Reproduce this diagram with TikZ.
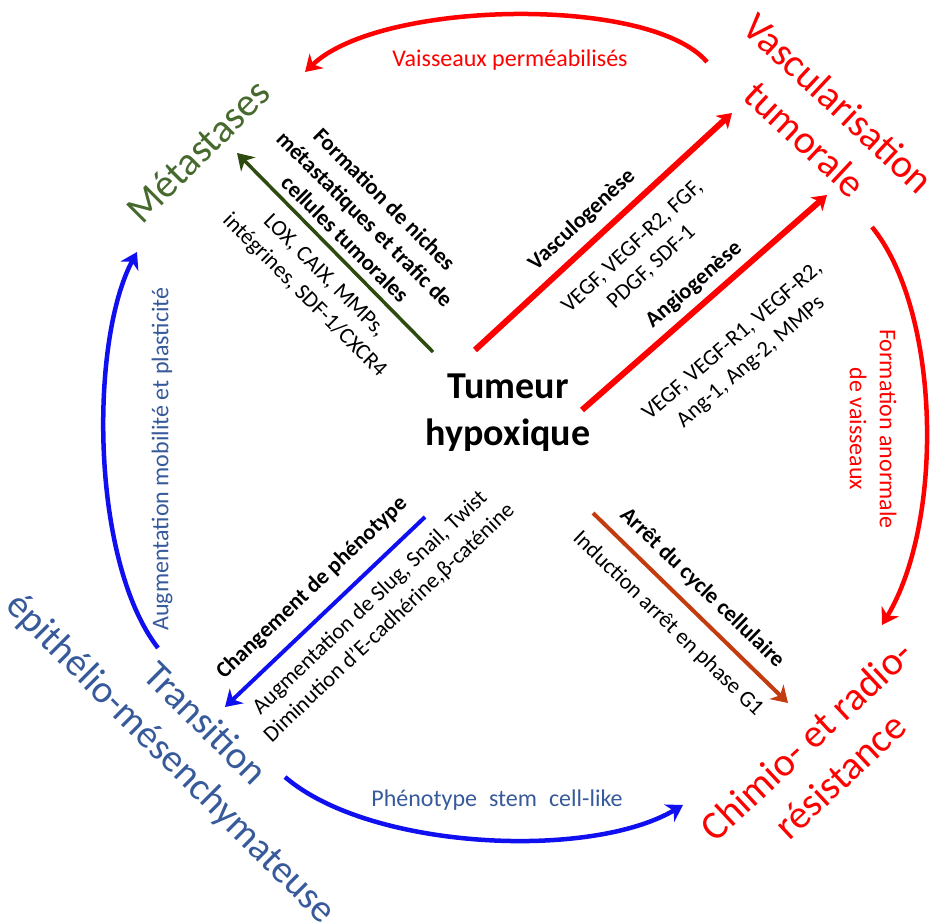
\documentclass[tikz,border=0pt]{standalone}
\usepackage{fontspec}
\setmainfont{Carlito}
\usetikzlibrary{arrows.meta}
\definecolor{myred}{RGB}{255,0,0}
\definecolor{metgreen}{RGB}{70,105,45}
\definecolor{arrgreen}{RGB}{45,75,15}
\definecolor{temblue}{RGB}{55,90,155}
\definecolor{arrblue}{RGB}{15,15,240}
\definecolor{arrorange}{RGB}{195,60,15}
\begin{document}
\begin{tikzpicture}[x=1pt,y=-1pt,
  small/.style={font=\fontsize{22.5}{28}\selectfont, align=center, inner sep=0pt},
  smallb/.style={font=\fontsize{22.5}{28}\selectfont\bfseries, align=center, inner sep=0pt},
  arclbl/.style={font=\fontsize{24}{30}\selectfont, align=center, inner sep=0pt},
  big/.style={font=\fontsize{40}{49}\selectfont, align=center, inner sep=0pt},
  arr/.style={-{Stealth[length=16pt,width=20pt,inset=5pt]}, line width=4pt},
  rarr/.style={-{Stealth[length=14pt,width=18pt,inset=4pt]}, line width=6pt, myred},
]
\useasboundingbox (0,0) rectangle (930,922);

% centre
\node[font=\fontsize{38}{47}\selectfont\bfseries, align=center, inner sep=0pt] (tum) at (508,413) {Tumeur\\hypoxique};

% big labels
\node[big, text=metgreen, rotate=45] (met) at (198,151) {Métastases};
\node[big, text=myred, rotate=-43] (vasc) at (822,121) {Vascularisation\\tumorale};
\node[big, text=myred, rotate=43] (chim) at (823,758) {Chimio- et radio-\\résistance};
\node[font=\fontsize{39}{48}\selectfont, align=center, inner sep=0pt, text=temblue, rotate=-45] (tem) at (187,742) {Transition\\épithélio-mésenchymateuse};

% radial arrow end points
\coordinate (g1) at (433,352); \coordinate (g2) at (237,153);
\coordinate (r1a) at (475,350); \coordinate (r1b) at (732,113);
\coordinate (r2a) at (582,410); \coordinate (r2b) at (827,195);
\coordinate (b1) at (425,517); \coordinate (b2) at (225,707);
\coordinate (o1) at (593,513); \coordinate (o2) at (788,703);

\draw[arr, arrgreen, line width=3.5pt] (g1) -- (g2);
\draw[rarr] (r1a) -- (r1b);
\draw[rarr] (r2a) -- (r2b);
\draw[arr, arrblue] (b1) -- (b2);
\draw[arr, arrorange] (o1) -- (o2);

% radial labels
\node[smallb, rotate=-45] (fmn) at (365,219) {Formation de niches\\métastatiques et trafic de\\cellules tumorales};
\node[small, rotate=-45] (lox) at (314,286) {LOX, CAIX, MMPs,\\intégrines, SDF-1/CXCR4};
\node[smallb, rotate=43] (vascg) at (582,220) {Vasculogenèse};
\node[small, rotate=43] (vegf1) at (642,257) {VEGF, VEGF-R2, FGF,\\PDGF, SDF-1};
\node[smallb, rotate=41] (angio) at (694,285) {Angiogenèse};
\node[small, rotate=41] (vegf2) at (742,352) {VEGF, VEGF-R1, VEGF-R2,\\Ang-1, Ang-2, MMPs};
\node[smallb, rotate=43.5] (chph) at (312,588) {Changement de phénotype};
\node[small, rotate=43.5] (slug) at (380,613) {Augmentation de Slug, Snail, Twist\\Diminution d’E-cadhérine,β-caténine};
\node[smallb, rotate=-44] (arret) at (702,588) {Arrêt du cycle cellulaire};
\node[small, rotate=-44] (induc) at (668,624) {Induction arrêt en phase G1};

% outer arcs
\coordinate (t1) at (707,62); \coordinate (t2) at (305,72);
\coordinate (ra) at (872,227); \coordinate (rb) at (882,625);
\coordinate (la) at (158,648); \coordinate (lb) at (137,252);
\coordinate (ba) at (285,777); \coordinate (bb) at (683,805);

\draw[arr, myred, line width=4.5pt] (t1) .. controls (650,-5) and (380,0) .. (t2);
\draw[arr, myred, line width=4.5pt] (ra) .. controls (940,310) and (945,520) .. (rb);
\draw[arr, arrblue, line width=4.5pt] (la) .. controls (90,560) and (90,340) .. (lb);
\draw[arr, arrblue, line width=4.5pt] (ba) .. controls (370,850) and (590,860) .. (bb);

\node[arclbl, text=myred] (vp) at (510,60) {Vaisseaux perméabilisés};
\node[arclbl, text=myred, rotate=-90] (fav) at (873,429) {Formation anormale\\de vaisseaux};
\node[arclbl, text=temblue, rotate=90] (amp) at (162,459) {Augmentation mobilité et plasticité};
\node[arclbl, text=temblue] (psc) at (497,800) {Phénotype\enspace stem\enspace cell-like};
\end{tikzpicture}
\end{document}
